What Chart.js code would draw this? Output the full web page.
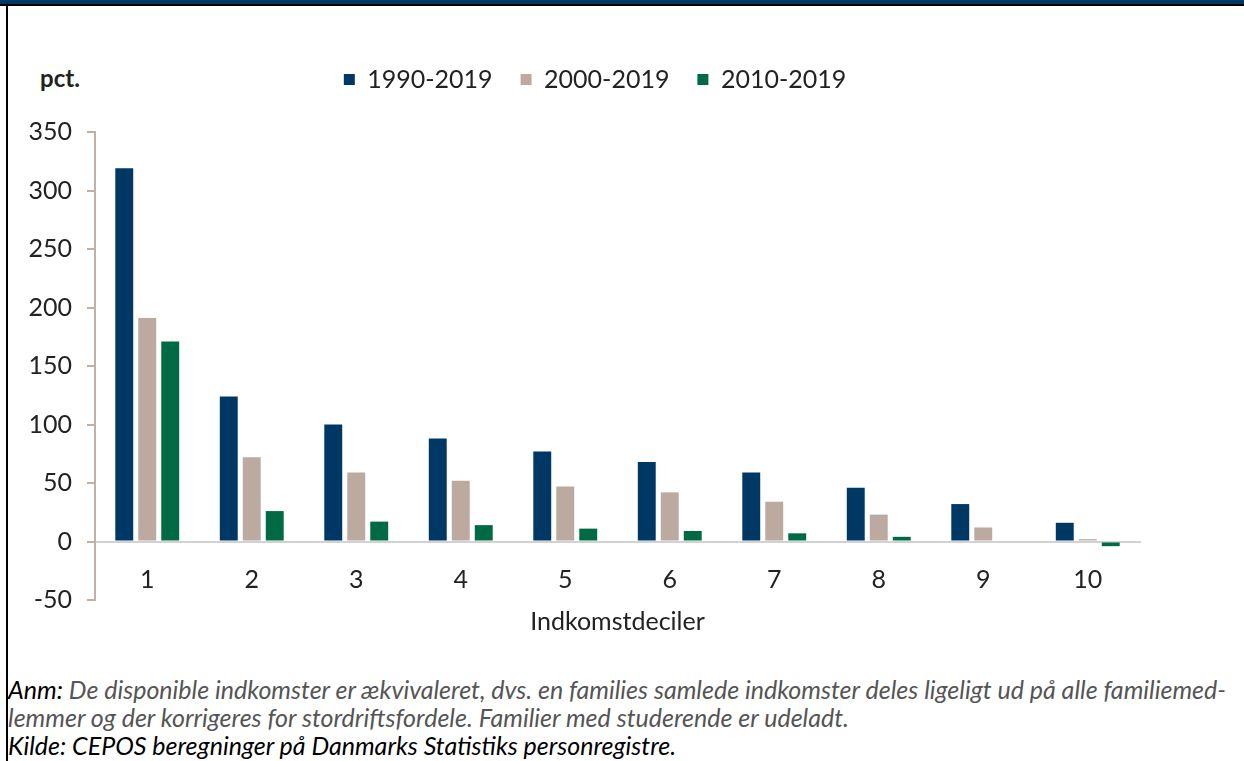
<!DOCTYPE html>
<html>
<head>
<meta charset="utf-8">
<script src="https://cdn.jsdelivr.net/npm/chart.js@4.4.0/dist/chart.umd.min.js"></script>
<style>
  html, body { margin: 0; padding: 0; background: #fff; }
  body { width: 1244px; height: 761px; position: relative; overflow: hidden; font-family: Lato, "Noto Sans", sans-serif; }
  .topband { position: absolute; left: 0; top: 0; width: 1244px; height: 4px; background: #003865; }
  .topline { position: absolute; left: 0; top: 4px; width: 1244px; height: 2px; background: #000; }
  .leftline { position: absolute; left: 6px; top: 6px; width: 2px; height: 755px; background: #000; }
  .unit { position: absolute; left: 40px; top: 63px; font-weight: bold; font-size: 24px; color: #222; }
  #wrap { position: absolute; left: 0; top: 0; width: 1190px; height: 660px; }
  .note { position: absolute; left: 8px; top: 675px; font-style: italic; font-size: 25px; line-height: 28px; color: #555; white-space: nowrap; }
  .note b { font-weight: normal; color: #000; }
</style>
</head>
<body>
<div class="topband"></div>
<div class="topline"></div>
<div class="leftline"></div>
<div class="unit">pct.</div>
<div id="wrap"><canvas id="chart"></canvas></div>
<div class="note">
  <b>Anm:</b> De disponible indkomster er ækvivaleret, dvs. en families samlede indkomster deles ligeligt ud på alle familiemed-<br>
  lemmer og der korrigeres for stordriftsfordele. Familier med studerende er udeladt.<br>
  <b>Kilde: CEPOS beregninger på Danmarks Statistiks personregistre.</b>
</div>
<script>
// Indkomstdeciler og vækst i disponibel indkomst (pct.)
const deciles = ['1', '2', '3', '4', '5', '6', '7', '8', '9', '10'];
const seriesNames = ['1990-2019', '2000-2019', '2010-2019'];
const growth1990 = [319, 124, 100, 88, 77, 68, 59, 46, 32, 16];
const growth2000 = [191, 72, 59, 52, 47, 42, 34, 23, 12, 2];
const growth2010 = [171, 26, 17, 14, 11, 9, 7, 4, 0, -4];
const yTicks = [-50, 0, 50, 100, 150, 200, 250, 300, 350];

const colors = ['#003865', '#bcaaa0', '#006a44'];
const axisColor = '#c3b0a5';

// legenden skal have ekstra luft under sig og flyttes lidt til højre
const legendPlace = {
    id: 'legendPlace',
    afterInit(chart) {
        const legend = chart.legend;
        const fit = legend.fit;
        legend.fit = function () {
            fit.call(this);
            this.height = 93;
        };
    },
    afterLayout(chart) {
        chart.legend.left += 25;
        chart.legend.right += 25;
    }
};

const ctx = document.getElementById('chart').getContext('2d');
const chart = new Chart(ctx, {
    type: 'bar',
    data: {
        labels: deciles,
        datasets: [growth1990, growth2000, growth2010].map((d, i) => ({
            label: seriesNames[i],
            data: d,
            backgroundColor: colors[i],
            borderWidth: 0,
            barPercentage: 0.78,
            categoryPercentage: 0.66
        }))
    },
    options: {
        responsive: true,
        maintainAspectRatio: false,
        animation: false,
        layout: { padding: { left: 0, right: 50, top: 39, bottom: 60 } },
        plugins: {
            legend: {
                position: 'top',
                labels: {
                    boxWidth: 11,
                    boxHeight: 11,
                    color: '#222',
                    padding: 28,
                    font: { family: 'Lato', size: 25 }
                }
            },
            tooltip: { enabled: false }
        },
        scales: {
            x: {
                position: { y: 0 },
                grid: { display: false },
                border: { color: '#d2d2d2', width: 2, dash: [2, 1] },
                ticks: { color: '#222', padding: 15, font: { family: 'Lato', size: 25 } },
                title: {
                    display: true,
                    text: 'Indkomstdeciler',
                    color: '#222',
                    padding: { top: -3 },
                    font: { family: 'Lato', size: 25 }
                }
            },
            y: {
                min: -50,
                max: 350,
                afterFit: (scale) => { scale.width = 95; },
                afterBuildTicks: (scale) => { scale.ticks = yTicks.map(v => ({ value: v })); },
                grid: { drawOnChartArea: false, color: axisColor, tickLength: 8, lineWidth: 2 },
                border: { color: axisColor, width: 2 },
                ticks: { color: '#222', padding: 15, font: { family: 'Lato', size: 25 } }
            }
        }
    },
    plugins: [legendPlace]
});
</script>
</body>
</html>
